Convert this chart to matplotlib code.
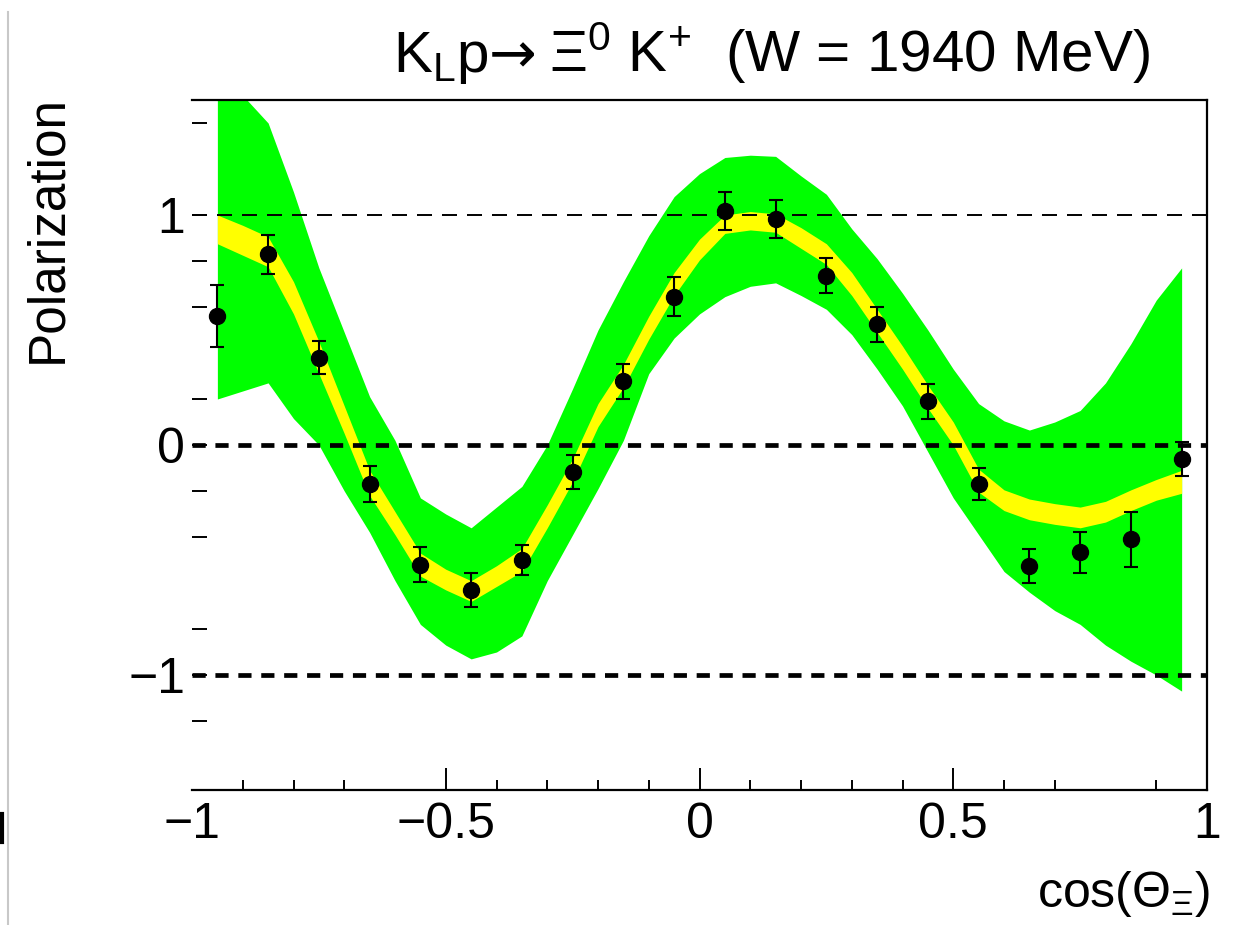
import matplotlib as mpl
import matplotlib.pyplot as plt
from matplotlib.lines import Line2D

mpl.use("Agg")

# measured points
cos_theta = [-0.95, -0.85, -0.75, -0.65, -0.55, -0.45, -0.35, -0.25, -0.15, -0.05,
             0.05, 0.15, 0.25, 0.35, 0.45, 0.55, 0.65, 0.75, 0.85, 0.95]
polarization = [0.56, 0.83, 0.38, -0.17, -0.52, -0.63, -0.50, -0.117, 0.277, 0.645,
                1.017, 0.983, 0.736, 0.524, 0.19, -0.169, -0.527, -0.467, -0.41, -0.062]
pol_err = [0.135, 0.085, 0.072, 0.077, 0.075, 0.074, 0.067, 0.074, 0.075, 0.085,
           0.082, 0.082, 0.075, 0.074, 0.076, 0.07, 0.075, 0.088, 0.12, 0.074]

# model bands
band_cos = [-0.95, -0.9, -0.85, -0.8, -0.75, -0.7, -0.65, -0.6, -0.55, -0.5,
            -0.45, -0.4, -0.35, -0.3, -0.25, -0.2, -0.15, -0.1, -0.05, 0.0,
            0.05, 0.1, 0.15, 0.2, 0.25, 0.3, 0.35, 0.4, 0.45, 0.5,
            0.55, 0.6, 0.65, 0.7, 0.75, 0.8, 0.85, 0.9, 0.95]
green_hi = [1.65, 1.52, 1.40, 1.10, 0.77, 0.49, 0.21, 0.02, -0.23, -0.30,
            -0.36, -0.27, -0.18, 0.00, 0.245, 0.50, 0.71, 0.91, 1.08, 1.18,
            1.25, 1.26, 1.255, 1.17, 1.09, 0.94, 0.81, 0.66, 0.50, 0.33,
            0.18, 0.105, 0.065, 0.10, 0.15, 0.27, 0.44, 0.63, 0.77]
green_lo = [0.20, 0.235, 0.27, 0.115, 0.0, -0.20, -0.38, -0.59, -0.78, -0.87,
            -0.93, -0.90, -0.83, -0.59, -0.39, -0.19, 0.02, 0.31, 0.465, 0.57,
            0.645, 0.69, 0.705, 0.65, 0.59, 0.48, 0.33, 0.17, -0.03, -0.23,
            -0.39, -0.55, -0.64, -0.72, -0.78, -0.87, -0.94, -1.00, -1.07]
yellow_hi = [1.0, 0.955, 0.905, 0.71, 0.45, 0.17, -0.11, -0.29, -0.47, -0.54,
             -0.59, -0.525, -0.45, -0.26, -0.06, 0.18, 0.35, 0.56, 0.75, 0.895,
             1.0, 1.015, 1.005, 0.945, 0.875, 0.75, 0.59, 0.43, 0.26, 0.10,
             -0.105, -0.195, -0.235, -0.255, -0.27, -0.245, -0.195, -0.15, -0.11]
yellow_lo = [0.875, 0.825, 0.775, 0.57, 0.31, 0.05, -0.22, -0.39, -0.57, -0.63,
             -0.68, -0.615, -0.55, -0.36, -0.16, 0.08, 0.25, 0.46, 0.65, 0.805,
             0.92, 0.935, 0.925, 0.855, 0.785, 0.65, 0.49, 0.33, 0.16, 0.0,
             -0.205, -0.285, -0.325, -0.345, -0.36, -0.335, -0.285, -0.24, -0.21]

x_major = [-1, -0.5, 0, 0.5, 1]
x_labels = ["\u22121", "\u22120.5", "0", "0.5", "1"]
x_minor = [-0.9, -0.8, -0.7, -0.4, -0.3, -0.2, -0.1, 0.1, 0.2, 0.3, 0.4, 0.6, 0.7, 0.9]
y_major = [-1, 0, 1]
y_labels = ["\u22121", "0", "1"]
y_minor = [1.4, 0.8, 0.6, 0.2, -0.2, -0.4, -0.8, -1.2]


def main():
    plt.rcParams["font.family"] = ["Liberation Sans", "DejaVu Sans"]
    plt.rcParams["mathtext.fontset"] = "custom"
    plt.rcParams["mathtext.rm"] = "Liberation Sans"
    plt.rcParams["mathtext.it"] = "Liberation Sans:italic"
    plt.rcParams["mathtext.bf"] = "Liberation Sans:bold"
    plt.rcParams["lines.scale_dashes"] = False

    W, H = 1239, 925
    fig = plt.figure(figsize=(W / 100, H / 100), dpi=100)
    ax = fig.add_axes([192 / W, 1 - 790 / H, (1207 - 192) / W, 690 / H])

    ax.fill_between(band_cos, green_lo, green_hi, color="#00ff00", lw=0, zorder=1)
    ax.fill_between(band_cos, yellow_lo, yellow_hi, color="#ffff00", lw=0, zorder=2)

    ax.axhline(1, color="black", lw=1.4, dashes=(10.8, 7.2), zorder=3)
    ax.axhline(0, color="black", lw=3.4, dashes=(9.5, 7.0), zorder=3)
    ax.axhline(-1, color="black", lw=3.4, dashes=(9.5, 7.0), zorder=3)

    ax.errorbar(cos_theta, polarization, yerr=pol_err, fmt="o", color="black",
                ms=11.5, elinewidth=1.5, capsize=5, capthick=1.5, zorder=4)

    ax.set_xlim(-1, 1)
    ax.set_ylim(-1.5, 1.5)

    ax.spines["left"].set_visible(False)
    for s in ("top", "right", "bottom"):
        ax.spines[s].set_linewidth(1.6)

    ax.set_xticks(x_major)
    ax.set_xticklabels(x_labels)
    ax.set_xticks(x_minor, minor=True)
    ax.set_yticks(y_major)
    ax.set_yticklabels(y_labels)
    ax.set_yticks(y_minor, minor=True)

    ax.tick_params(axis="x", which="major", direction="in", length=15.8, width=1.4,
                   labelsize=36, pad=9)
    ax.tick_params(axis="x", which="minor", direction="in", length=7.2, width=1.4)
    ax.tick_params(axis="y", which="both", direction="in", length=10.8, width=1.4,
                   labelsize=36, pad=5)
    ax.xaxis.get_major_ticks()[0].tick1line.set_visible(False)
    ax.xaxis.get_major_ticks()[-1].tick1line.set_visible(False)

    # title in three pieces so the arrow can come from DejaVu Sans
    fig.text(489 / W, 1 - 72 / H, r"K$_{\mathrm{L}}$p", fontsize=42,
             ha="right", va="baseline")
    fig.text(513 / W, 1 - 72 / H, "\u2192", fontsize=41, family="DejaVu Sans",
             ha="center", va="baseline")
    fig.text(1150 / W, 1 - 72 / H, "\u039e$^{0}$ K$^{+}$  (W = 1940 MeV)",
             fontsize=42, ha="right", va="baseline")
    fig.text(1210 / W, 1 - 907 / H, r"cos($\mathrm{\Theta}_{\mathrm{\Xi}}$)",
             fontsize=36, ha="right", va="baseline")
    fig.text(48 / W, 1 - 95 / H, "Polarization", fontsize=37, rotation=90,
             ha="center", va="top")

    # page edge remnants from the source figure
    fig.add_artist(Line2D([8 / W, 8 / W], [0, 1 - 12 / H], color="#c8c8c8", lw=1.5))
    fig.add_artist(Line2D([2 / W, 2 / W], [1 - 842 / H, 1 - 814 / H], color="black", lw=3))

    fig.savefig("out.png", dpi=100)
    plt.close(fig)


if __name__ == "__main__":
    main()
